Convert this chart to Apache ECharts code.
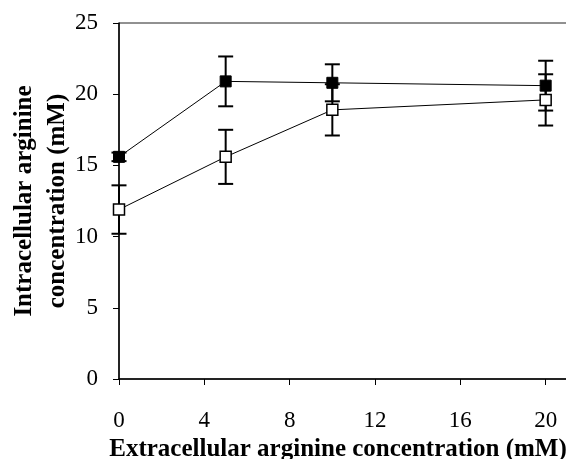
<!DOCTYPE html>
<html>
<head>
<meta charset="utf-8">
<script src="https://cdn.jsdelivr.net/npm/echarts@6/dist/echarts.min.js"></script>
<style>
html, body { margin: 0; padding: 0; background: #fff; }
#chart { width: 566px; height: 459px; }
</style>
</head>
<body>
<div id="chart"></div>
<script>
// extracellular concentration (mM)
var xValues = [0, 5, 10, 20];
// filled squares
var filledMean = [15.6, 20.9, 20.8, 20.6];
var filledErr = [0.3, 1.75, 1.3, 1.75];
// open squares
var openMean = [11.9, 15.6, 18.9, 19.6];
var openErr = [1.7, 1.9, 1.8, 1.8];

var fontFam = '"Liberation Serif", "Times New Roman", serif';

function pairs(ys) {
    return xValues.map(function (x, i) { return [x, ys[i]]; });
}
function errData(ys, es) {
    return xValues.map(function (x, i) { return [x, ys[i] - es[i], ys[i] + es[i]]; });
}

function errorBar(params, api) {
    var lo = api.coord([api.value(0), api.value(1)]);
    var hi = api.coord([api.value(0), api.value(2)]);
    var w = 7.5;
    var st = { stroke: '#000', lineWidth: 2 };
    return {
        type: 'group',
        children: [
            { type: 'line', shape: { x1: lo[0], y1: lo[1], x2: hi[0], y2: hi[1] }, style: st },
            { type: 'line', shape: { x1: lo[0] - w, y1: lo[1], x2: lo[0] + w, y2: lo[1] }, style: st },
            { type: 'line', shape: { x1: hi[0] - w, y1: hi[1], x2: hi[0] + w, y2: hi[1] }, style: st }
        ]
    };
}

var chart = echarts.init(document.getElementById('chart'));
chart.setOption({
    animation: false,
    grid: {
        left: 119, top: 23, right: -1, bottom: 80,
        containLabel: false, outerBoundsMode: 'none',
        show: true, borderColor: '#222', borderWidth: 1
    },
    xAxis: {
        type: 'value',
        min: 0, max: 21, interval: 4,
        name: 'Extracellular arginine concentration (mM)',
        nameLocation: 'middle',
        nameGap: 58,
        nameMoveOverlap: false,
        nameTextStyle: { fontFamily: fontFam, fontWeight: 'bold', fontSize: 25, color: '#000', padding: [0, 10, 0, 0] },
        axisLine: { lineStyle: { color: '#000', width: 1.5 } },
        axisTick: { inside: false, length: 6, lineStyle: { color: '#000' } },
        axisLabel: {
            margin: 30, fontFamily: fontFam, fontSize: 23, color: '#000', showMaxLabel: false,
            formatter: function (v) { return (v % 4 === 0 && v <= 20) ? String(v) : ''; }
        },
        splitLine: { show: false }
    },
    yAxis: {
        type: 'value',
        min: 0, max: 25, interval: 5,
        name: 'Intracellular arginine\nconcentration (mM)',
        nameLocation: 'middle',
        nameGap: 45,
        nameMoveOverlap: false,
        nameTextStyle: { fontFamily: fontFam, fontWeight: 'bold', fontSize: 25, color: '#000', lineHeight: 33 },
        axisLine: { lineStyle: { color: '#000', width: 1.5 } },
        axisTick: { inside: false, length: 6, lineStyle: { color: '#000' } },
        axisLabel: { margin: 21, fontFamily: fontFam, fontSize: 23, color: '#000' },
        splitLine: { show: false }
    },
    series: [
        {
            type: 'custom', renderItem: errorBar, z: 1,
            data: errData(filledMean, filledErr)
        },
        {
            type: 'custom', renderItem: errorBar, z: 1,
            data: errData(openMean, openErr)
        },
        {
            type: 'line', data: pairs(filledMean), z: 3,
            symbol: 'rect', symbolSize: 11,
            lineStyle: { color: '#000', width: 1 },
            itemStyle: { color: '#000', borderColor: '#000', borderWidth: 1 }
        },
        {
            type: 'line', data: pairs(openMean), z: 3,
            symbol: 'rect', symbolSize: 11,
            lineStyle: { color: '#000', width: 1 },
            itemStyle: { color: '#fff', borderColor: '#000', borderWidth: 1.5 }
        }
    ]
});
</script>
</body>
</html>
